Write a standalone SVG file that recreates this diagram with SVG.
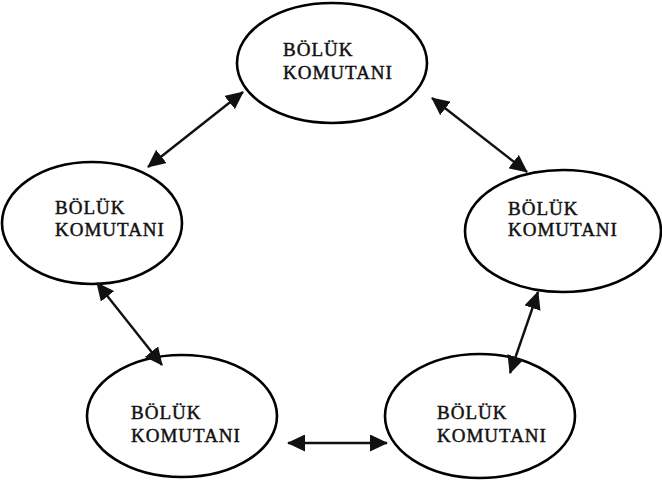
<svg xmlns="http://www.w3.org/2000/svg" width="662" height="499" viewBox="0 0 662 499">
<style>
.node ellipse{fill:#fff;stroke:#000;stroke-width:2.6}
.node text{font-family:"Liberation Serif","Times New Roman",serif;font-size:19px;letter-spacing:1px;fill:#111;stroke:#111;stroke-width:0.45}
.conn line{stroke:#111;stroke-width:2.4;marker-start:url(#ah);marker-end:url(#ah)}
</style>
<defs>
<marker id="ah" viewBox="0 0 18 17" refX="17" refY="8.5" markerWidth="18" markerHeight="17" markerUnits="userSpaceOnUse" orient="auto-start-reverse">
<path d="M0,0 L18,8.5 L0,17 z" fill="#111"/>
</marker>
</defs>
<rect width="662" height="499" fill="#fff"/>
<g id="n-top" class="node">
<ellipse cx="332" cy="63" rx="95" ry="60"/>
<text x="283" y="56">BÖLÜK</text>
<text x="283" y="79">KOMUTANI</text>
</g>
<g id="n-left" class="node">
<ellipse cx="92" cy="223" rx="90" ry="61"/>
<text x="55" y="214">BÖLÜK</text>
<text x="55" y="236">KOMUTANI</text>
</g>
<g id="n-right" class="node">
<ellipse cx="563" cy="231" rx="98" ry="61"/>
<text x="508" y="215">BÖLÜK</text>
<text x="508" y="236">KOMUTANI</text>
</g>
<g id="n-bl" class="node">
<ellipse cx="182" cy="416" rx="95" ry="61"/>
<text x="131" y="419">BÖLÜK</text>
<text x="131" y="442">KOMUTANI</text>
</g>
<g id="n-br" class="node">
<ellipse cx="480" cy="416" rx="95" ry="62"/>
<text x="437" y="419">BÖLÜK</text>
<text x="437" y="442">KOMUTANI</text>
</g>
<g id="connectors" class="conn">
<line x1="243" y1="92" x2="148" y2="167"/>
<line x1="432" y1="98" x2="527" y2="172"/>
<line x1="97" y1="283" x2="162" y2="365"/>
<line x1="538" y1="292" x2="510" y2="373"/>
<line x1="288" y1="443" x2="387" y2="443"/>
</g>
</svg>
